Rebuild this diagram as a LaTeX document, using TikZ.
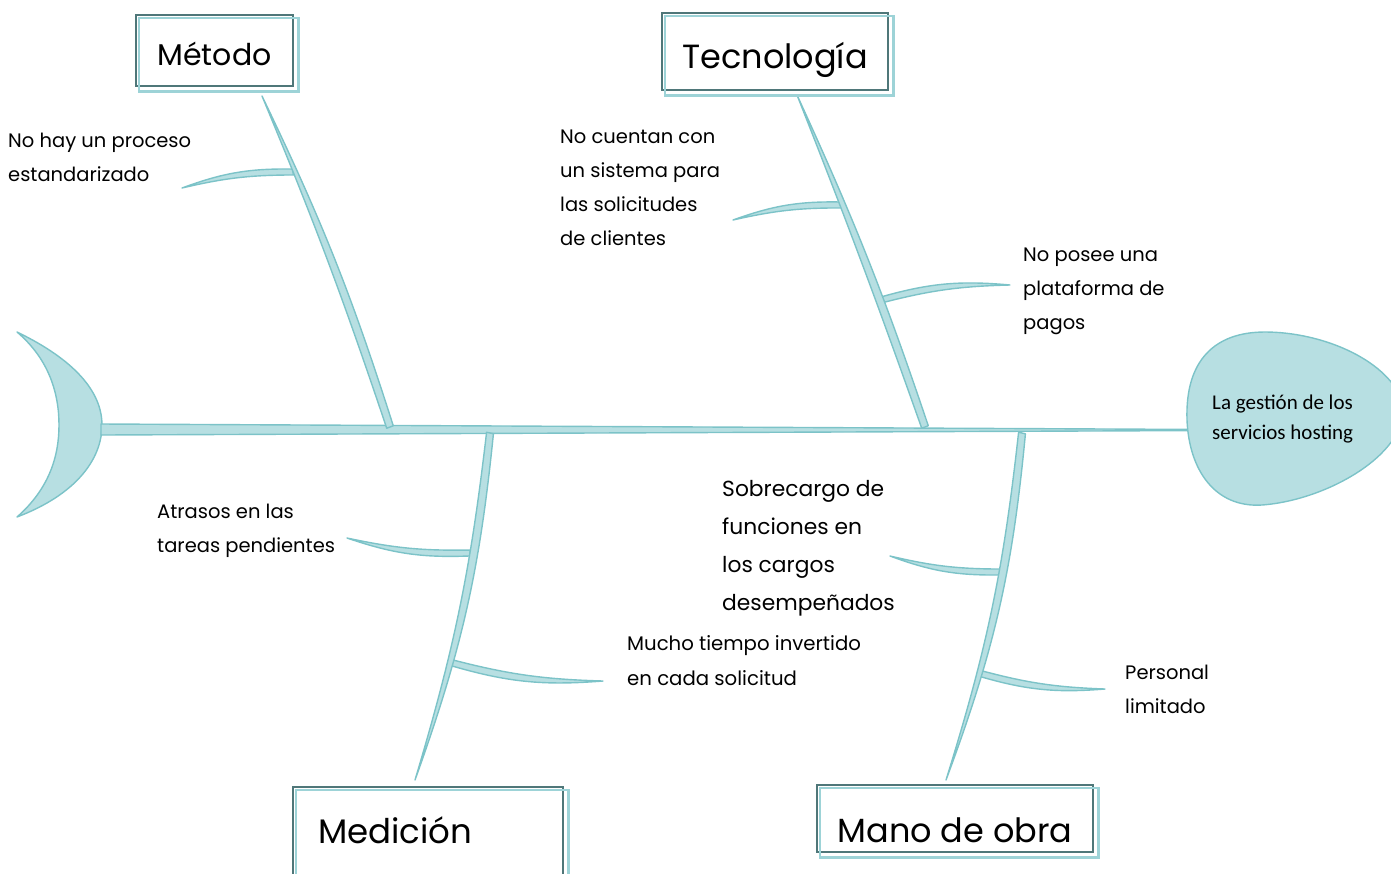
\documentclass[tikz,border=0pt]{standalone}
\usepackage{fontspec}
\setmainfont{Poppins}
\newfontfamily\headfont{Carlito}
\usetikzlibrary{calc}
\definecolor{fishfill}{HTML}{B7DFE2}
\definecolor{fishline}{HTML}{7CC3C8}
\definecolor{boxdark}{HTML}{4F7779}
\definecolor{boxlight}{HTML}{9DD3D7}
\tikzset{
  tubestyle/.style={fill=fishfill, draw=fishline, line width=1.4pt, line join=round},
  catbox/.style={draw=boxdark, line width=2.2pt, inner sep=0pt, text depth=0pt},
  shadowline/.style={draw=boxlight, line width=2.8pt},
  cause/.style={anchor=base west, align=left, inner sep=0pt, font=\fontsize{19.5}{34}\selectfont},
  headtext/.style={anchor=base west, align=left, inner sep=0pt, font=\headfont\fontsize{21}{30}\selectfont},
}
% bone: root, tip, half width at root (pt), bend of left side, bend of right side
\newcommand\horn[5]{\path[tubestyle] ($(#1)!#3pt!90:(#2)$) to[bend left=#4] (#2) to[bend right=#5] ($(#1)!#3pt!-90:(#2)$) -- cycle;}
\begin{document}
\begin{tikzpicture}[x=1pt,y=-1pt]
\useasboundingbox (0,0) rectangle (1391,873);
% head of the fish
\path[tubestyle] (1187,420) .. controls (1185,360) and (1215,332) .. (1265,332)
  .. controls (1320,332) and (1385,358) .. (1402,400)
  .. controls (1414,450) and (1330,500) .. (1262,505)
  .. controls (1215,508) and (1189,470) .. (1187,420) -- cycle;
\node[headtext] (effect) at (1212,439) {La gestión de los\\servicios hosting};
% tail
\path[tubestyle] (17,332) .. controls (75,360) and (102,392) .. (102,425)
  .. controls (102,460) and (75,495) .. (17,517)
  .. controls (50,488) and (59,455) .. (59,425)
  .. controls (59,395) and (50,360) .. (17,332) -- cycle;
% spine
\coordinate (tail) at (101,429.5);
\coordinate (headL) at (1187,430);
\path[tubestyle] ($(tail)+(0,-5.5)$) -- ($(headL)+(0,-0.6)$) -- ($(headL)+(0,0.6)$) -- ($(tail)+(0,5.5)$) -- cycle;
% bone end points
\coordinate (m0) at (262,96);   \coordinate (m1) at (390,427);
\coordinate (t0) at (797,95);   \coordinate (t1) at (925,427);
\coordinate (d0) at (490,433);  \coordinate (d1) at (415,780);
\coordinate (o0) at (1022,433); \coordinate (o1) at (946,780);
\coordinate (mj) at (293,172);  \coordinate (mt) at (182,188);
\coordinate (tj1) at (843,205); \coordinate (tt1) at (733,220);
\coordinate (tj2) at (881,300); \coordinate (tt2) at (1010,285);
\coordinate (dj1) at (470,553); \coordinate (dt1) at (347,538);
\coordinate (dj2) at (449,662); \coordinate (dt2) at (603,681);
\coordinate (oj1) at (1000,572);\coordinate (ot1) at (890,556);
\coordinate (oj2) at (978.5,673); \coordinate (ot2) at (1105,689);
% small bones (drawn first, so that the main bones cover their roots)
\horn{mj}{mt}{3}{-6.5}{-10.5}
\horn{tj1}{tt1}{3}{-6.5}{-10.5}
\horn{tj2}{tt2}{3}{10.5}{6.5}
\horn{dj1}{dt1}{3}{10.5}{6.5}
\horn{dj2}{dt2}{3}{-6.5}{-10.5}
\horn{oj1}{ot1}{3}{10.5}{6.5}
\horn{oj2}{ot2}{3}{-6.5}{-10.5}
% main bones (root on the spine, tip at the far end)
\horn{m1}{m0}{3.5}{-2}{-4}
\horn{t1}{t0}{3.5}{-1}{-3}
\horn{d0}{d1}{3.5}{7}{5}
\horn{o0}{o1}{3.5}{7.5}{5.5}
% category boxes
\node[catbox, minimum width=157, minimum height=71, text height=29, font=\fontsize{30}{36}\selectfont] (metodo) at (214.5,50.5) {Método};
\node[catbox, minimum width=226, minimum height=77, text height=33, font=\fontsize{33.5}{40}\selectfont] (tecno) at (775,51.5) {Tecnología};
\node[catbox, minimum width=270, minimum height=100, text height=12, text width=220, align=left, font=\fontsize{34}{40}\selectfont] (medic) at (428,837) {Medición};
\node[catbox, minimum width=276, minimum height=67, text height=47, font=\fontsize{33.5}{40}\selectfont] (mano) at (955,818.5) {Mano de obra};
\foreach \b in {metodo,tecno,medic,mano}
  \draw[shadowline] ($(\b.north west)+(4,4)$) rectangle ($(\b.south east)+(4,4)$);
% causes (anchored at the baseline of the last line)
\node[cause] (c1) at (8,181) {No hay un proceso\\estandarizado};
\node[cause] (c2) at (560,245) {No cuentan con\\un sistema para\\las solicitudes\\de clientes};
\node[cause] (c3) at (1023,329) {No posee una\\plataforma de\\pagos};
\node[cause] (c4) at (157,552) {Atrasos en las\\tareas pendientes};
\node[cause, font=\fontsize{21.8}{38}\selectfont] (c5) at (722,610) {Sobrecargo de\\funciones en\\los cargos\\desempeñados};
\node[cause, font=\fontsize{19.7}{35}\selectfont] (c6) at (627,685) {Mucho tiempo invertido\\en cada solicitud};
\node[cause] (c7) at (1125,713) {Personal\\limitado};
\end{tikzpicture}
\end{document}
